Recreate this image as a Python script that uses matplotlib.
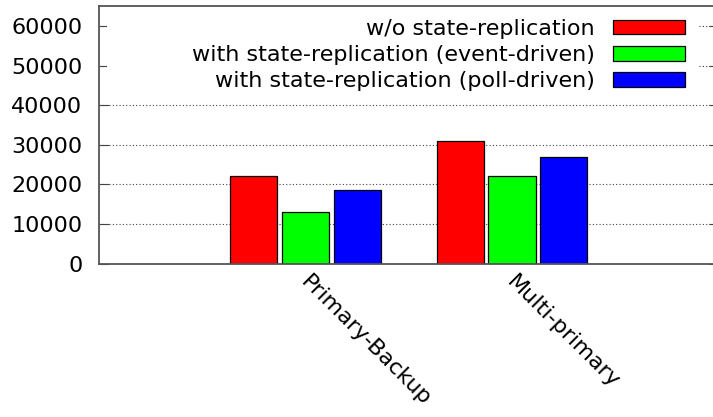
import numpy as np
import matplotlib
matplotlib.use("Agg")
from matplotlib import pyplot as plt
from matplotlib.patches import Rectangle

plt.rcParams["font.family"] = ["DejaVu Sans"]

setups = ["Primary-Backup", "Multi-primary"]
series = [
    "w/o state-replication",
    "with state-replication (event-driven)",
    "with state-replication (poll-driven)",
]
no_repl = [22000, 31000]
event_driven = [13000, 22000]
poll_driven = [18500, 27000]
colors = ["#ff0000", "#00ff00", "#0000ff"]
yticks = [0, 10000, 20000, 30000, 40000, 50000, 60000]

FS = 16

fig = plt.figure(figsize=(7.13, 4.17), dpi=100)
ax = fig.add_axes([99 / 713, 1 - 263.5 / 417, 619.5 / 713, 257.3 / 417])

x = np.arange(len(setups))
width = 0.228
for i, (vals, label) in enumerate(zip([no_repl, event_driven, poll_driven], series)):
    ax.bar(x + (i - 1) * 0.25, vals, width, color=colors[i], edgecolor="black",
           linewidth=0.9, label=label, zorder=2)

ax.set_xlim(-1, 2)
ax.set_ylim(0, 65000)
ax.set_yticks(yticks)
ax.set_yticklabels([str(t) for t in yticks], fontsize=FS)
ax.tick_params(axis="y", direction="in", length=7, width=0.8, pad=12,
               right=True, color="#444444")
ax.set_xticks(x + 0.025)
ax.set_xticklabels(setups, fontsize=FS, rotation=-45, ha="left", va="top",
                   rotation_mode="anchor")
ax.tick_params(axis="x", length=0, pad=6)

ax.set_axisbelow(True)
ax.yaxis.grid(True, linestyle=(0, (1, 2)), linewidth=0.8, color="#444444")
for s in ax.spines.values():
    s.set_color("#555555")
    s.set_linewidth(1.3)

# the key is opaque: blank out the grid behind it
ax.add_patch(Rectangle((107, 417 - 95), 591, 95 - 6.5, transform=None,
                       facecolor="white", edgecolor="none", zorder=1))

leg = ax.legend(loc="upper right", bbox_to_anchor=(685 / 713, 1 - 19 / 417),
                bbox_transform=fig.transFigure, frameon=False, markerfirst=False,
                fontsize=FS, handlelength=3.25, handleheight=0.63,
                handletextpad=0.8, labelspacing=0.28, borderpad=0,
                borderaxespad=0)
for col in leg._legend_box.get_children()[1].get_children():
    col.align = "right"

fig.savefig("out.png", dpi=100)
